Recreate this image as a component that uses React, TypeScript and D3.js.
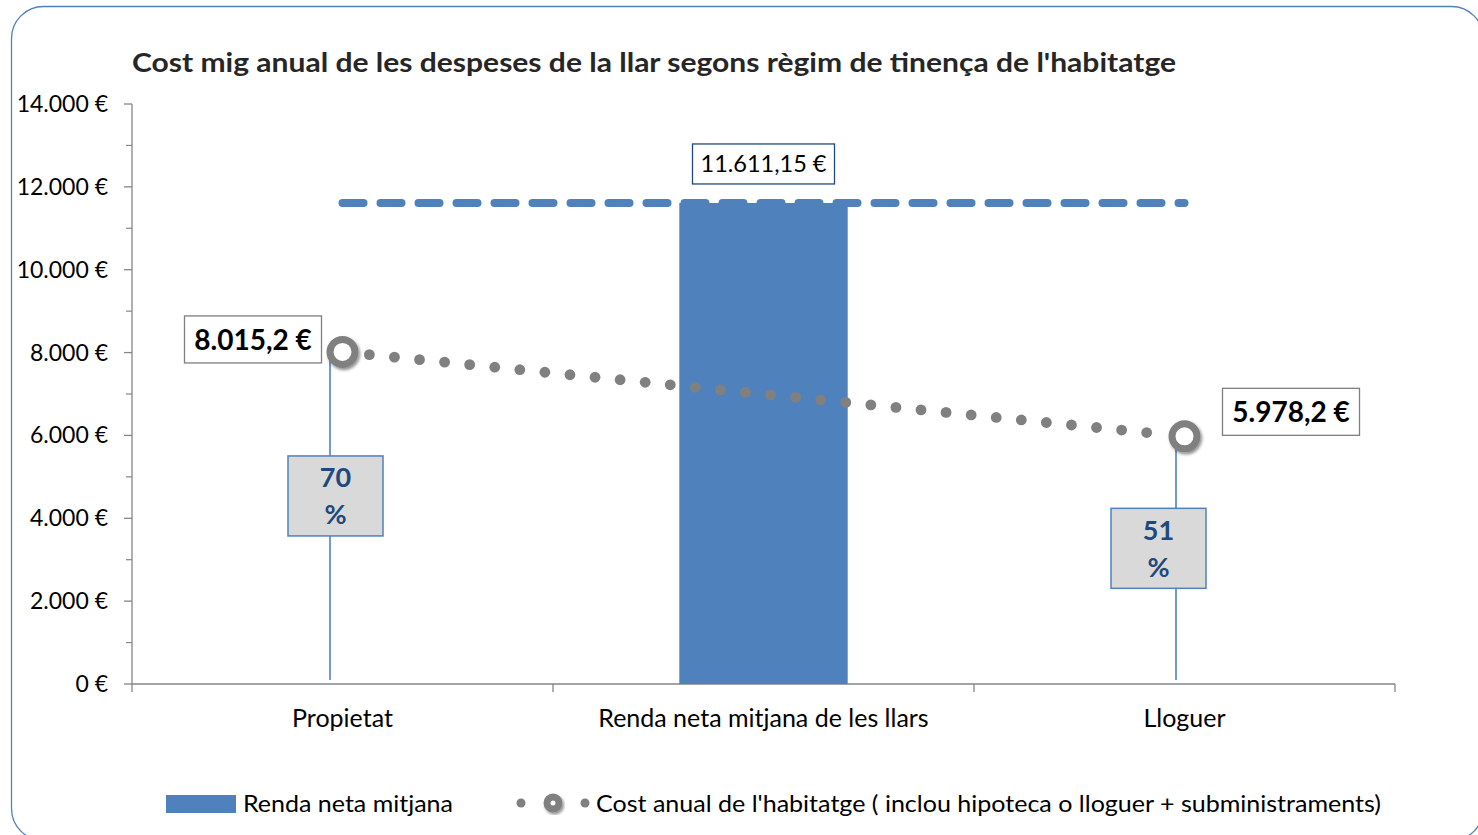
import React from 'react';
import * as d3 from 'd3';

// chart data
const categories = ['Propietat', 'Renda neta mitjana de les llars', 'Lloguer'];
const rendaValues = [null, 11611.15, null];
const rendaMitjana = 11611.15;
const costValues = [8015.2, null, 5978.2];
const costLabels = ['8.015,2 €', '', '5.978,2 €'];
const percentLabels = ['70', '', '51'];
const yTicks = [0, 2000, 4000, 6000, 8000, 10000, 12000, 14000];
const yMinorTicks = [1000, 3000, 5000, 7000, 9000, 11000, 13000];

const BLUE = '#4F81BD';
const GRAY = '#808080';
const FONT = 'Lato, "Open Sans", sans-serif';

const fmt = (v: number) => `${d3.format(',')(v).replace(/,/g, '.')} €`;

export default function App() {
  const W = 1478;
  const H = 835;
  const plot = { left: 132, right: 1395, top: 104, bottom: 684 };

  const x = d3.scaleBand().domain(categories).range([plot.left, plot.right]).padding(0);
  const y = d3.scaleLinear().domain([0, 14000]).range([plot.bottom, plot.top]);
  const bw = x.bandwidth();
  const cx = (c: string) => (x(c) as number) + bw / 2;

  // dashed average line across the categories
  const avgLine = d3.line<string>().x((c) => cx(c)).y(() => y(rendaMitjana));
  const avgPath = avgLine([categories[0], categories[categories.length - 1]]) as string;

  // cost line points
  const costPts = categories
    .map((c, i) => ({ c, v: costValues[i], label: costLabels[i], pct: percentLabels[i] }))
    .filter((d) => d.v !== null) as { c: string; v: number; label: string; pct: string }[];
  const p0 = { x: cx(costPts[0].c), y: y(costPts[0].v) };
  const p1 = { x: cx(costPts[costPts.length - 1].c), y: y(costPts[costPts.length - 1].v) };
  const len = Math.hypot(p1.x - p0.x, p1.y - p0.y);
  const dots: { x: number; y: number }[] = [];
  for (let d = 27; d < len - 30; d += 25.2) {
    const t = d / len;
    dots.push({ x: p0.x + (p1.x - p0.x) * t, y: p0.y + (p1.y - p0.y) * t });
  }

  return (
    <div style={{ position: 'absolute', left: 0, top: 0 }}>
      <svg width={W} height={H} style={{ display: 'block' }} fontFamily={FONT}>
        <defs>
          <filter id="shadow" x="-50%" y="-50%" width="200%" height="200%">
            <feDropShadow dx="1.5" dy="2" stdDeviation="1.5" floodColor="#000" floodOpacity="0.45" />
          </filter>
        </defs>
        <rect x={0} y={0} width={W} height={H} fill="#fff" />
        <rect x={11.5} y={6.5} width={1472} height={834} rx={32} fill="#fff" stroke={BLUE} strokeWidth={1.3} />

        {/* title */}
        <text x={132} y={72} fontSize={26} fontWeight="bold" fill="#262626" textLength={1044} lengthAdjust="spacingAndGlyphs">
          Cost mig anual de les despeses de la llar segons règim de tinença de l'habitatge
        </text>

        {/* y axis */}
        <line x1={plot.left} x2={plot.left} y1={plot.top} y2={plot.bottom} stroke="#868686" strokeWidth={1.3} />
        {yTicks.map((t) => (
          <g key={t}>
            <line x1={plot.left - 8} x2={plot.left} y1={y(t)} y2={y(t)} stroke="#868686" strokeWidth={1.3} />
            <text x={108} y={y(t)} dy="0.35em" textAnchor="end" fontSize={23} fill="#000">{fmt(t)}</text>
          </g>
        ))}
        {yMinorTicks.map((t) => (
          <line key={t} x1={plot.left - 6} x2={plot.left} y1={y(t)} y2={y(t)} stroke="#868686" strokeWidth={1.2} />
        ))}

        {/* x axis */}
        <line x1={plot.left} x2={plot.right} y1={plot.bottom} y2={plot.bottom} stroke="#868686" strokeWidth={1.5} />
        {[...categories.map((c) => x(c) as number), plot.right].map((v, i) => (
          <line key={i} x1={v} x2={v} y1={plot.bottom} y2={plot.bottom + 8} stroke="#868686" strokeWidth={1.3} />
        ))}
        {categories.map((c) => (
          <text key={c} x={cx(c)} y={718} dy="0.35em" textAnchor="middle" fontSize={25} fill="#000">{c}</text>
        ))}

        {/* bars */}
        {categories.map((c, i) => rendaValues[i] === null ? null : (
          <rect key={c} x={(x(c) as number) + bw * 0.3} width={bw * 0.4} y={y(rendaValues[i] as number)}
            height={y(0) - y(rendaValues[i] as number)} fill={BLUE} />
        ))}

        {/* leader lines for cost points */}
        {costPts.map((d, i) => (
          <line key={d.c} x1={cx(d.c) + (i === 0 ? -12.5 : -8.5)} x2={cx(d.c) + (i === 0 ? -12.5 : -8.5)}
            y1={y(d.v) + 9} y2={plot.bottom - 4} stroke={BLUE} strokeWidth={1.6} />
        ))}

        {/* average dashed line */}
        <path d={avgPath} fill="none" stroke={BLUE} strokeWidth={8} strokeLinecap="round" strokeDasharray="21 17" />

        {/* average label */}
        <g transform={`translate(${cx(categories[1])},${y(rendaMitjana) - 39})`}>
          <rect x={-71} y={-20} width={142} height={40} fill="#fff" stroke="#1F497D" strokeWidth={1.3} />
          <text x={0} y={0} dy="0.35em" textAnchor="middle" fontSize={23.5} fill="#000">11.611,15 €</text>
        </g>

        {/* cost line dots */}
        {dots.map((d, i) => (
          <circle key={i} cx={d.x} cy={d.y} r={5.4} fill={GRAY} />
        ))}

        {/* percent boxes */}
        {costPts.map((d, i) => {
          const bx = cx(d.c) + (i === 0 ? -7 : -26);
          const by = i === 0 ? y(d.v) + 144 : y(d.v) + 112;
          return (
            <g key={d.c} transform={`translate(${bx},${by})`}>
              <rect x={-47.5} y={-40} width={95} height={80} fill="#D9D9D9" stroke={BLUE} strokeWidth={1.5} />
              <text x={0} y={-18} dy="0.35em" textAnchor="middle" fontSize={27} fontWeight="bold" fill="#1F497D">{d.pct}</text>
              <text x={0} y={19} dy="0.35em" textAnchor="middle" fontSize={27} fontWeight="bold" fill="#1F497D">%</text>
            </g>
          );
        })}

        {/* markers */}
        {costPts.map((d) => (
          <circle key={d.c} cx={cx(d.c)} cy={y(d.v)} r={12.5} fill="#fff" stroke={GRAY} strokeWidth={7} filter="url(#shadow)" />
        ))}

        {/* value labels */}
        {costPts.map((d, i) => {
          const lx = i === 0 ? cx(d.c) - 158 : cx(d.c) + 38;
          const ly = i === 0 ? y(d.v) - 36 : y(d.v) - 48;
          return (
            <g key={d.c} transform={`translate(${lx},${ly})`}>
              <rect x={0} y={0} width={137} height={47} fill="#fff" stroke="#7F7F7F" strokeWidth={1.3} />
              <text x={68.5} y={23.5} dy="0.36em" textAnchor="middle" fontSize={28} fontWeight="bold" fill="#000">{d.label}</text>
            </g>
          );
        })}

        {/* legend */}
        <rect x={166} y={795} width={70} height={18} fill={BLUE} />
        <text x={243} y={804} dy="0.35em" fontSize={23} fill="#000" textLength={210} lengthAdjust="spacingAndGlyphs">Renda neta mitjana</text>
        <circle cx={521} cy={803} r={4.5} fill={GRAY} />
        <circle cx={553} cy={803} r={6} fill="#fff" stroke={GRAY} strokeWidth={7} filter="url(#shadow)" />
        <circle cx={585} cy={803} r={4.5} fill={GRAY} />
        <text x={596} y={804} dy="0.35em" fontSize={23} fill="#000" textLength={785} lengthAdjust="spacingAndGlyphs">
          Cost anual de l'habitatge ( inclou hipoteca o lloguer + subministraments)
        </text>
      </svg>
    </div>
  );
}
